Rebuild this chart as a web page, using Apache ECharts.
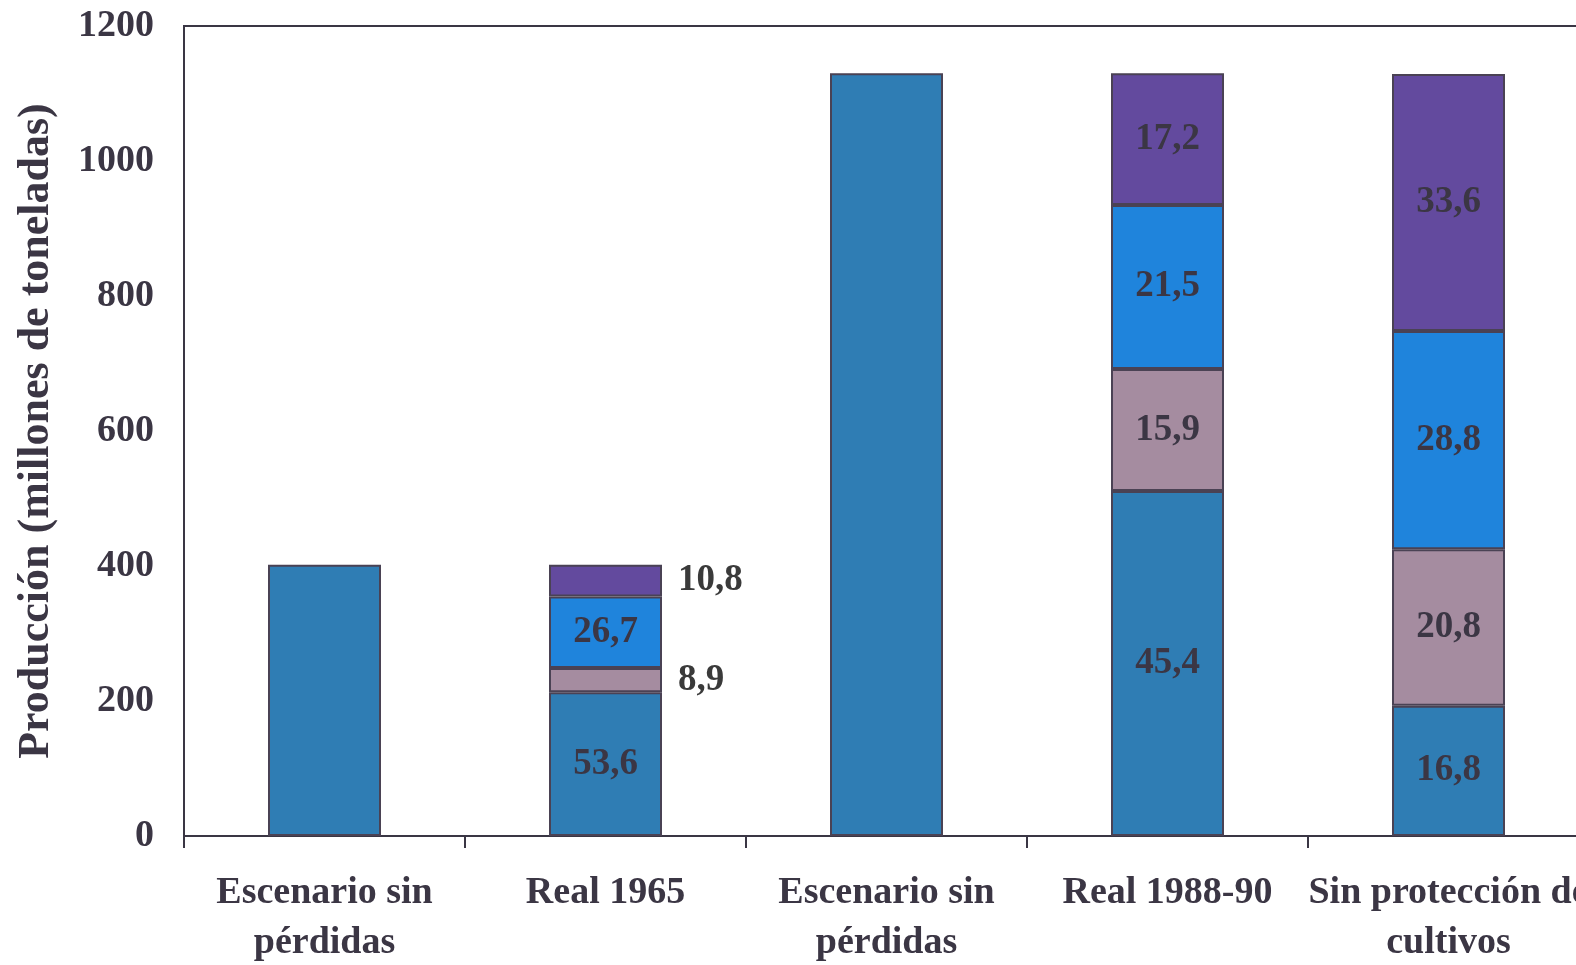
<!DOCTYPE html>
<html>
<head>
<meta charset="utf-8">
<script src="https://cdn.jsdelivr.net/npm/echarts@6/dist/echarts.min.js"></script>
<style>
html,body{margin:0;padding:0;background:#fff;overflow:hidden;}
#c{width:1576px;height:965px;}
</style>
</head>
<body>
<div id="c"></div>
<script>
const categories = ['Escenario sin\npérdidas', 'Real 1965', 'Escenario sin\npérdidas', 'Real 1988-90', 'Sin protección de\ncultivos'];
const yTicks = [0, 200, 400, 600, 800, 1000, 1200];
// heights (millones de toneladas)
const obtenida = [402, 213, 1130, 511, 193];
const perdidaA = ['-', 36, '-', 181, 232];
const perdidaB = ['-', 106, '-', 243, 323];
const perdidaC = ['-', 47, '-', 195, 381];
// percentage labels
const pctObtenida = ['', '53,6', '', '45,4', '16,8'];
const pctA = ['', '8,9', '', '15,9', '20,8'];
const pctB = ['', '26,7', '', '21,5', '28,8'];
const pctC = ['', '10,8', '', '17,2', '33,6'];

const FONT = 'Liberation Serif';
const TXT = '#3b3644';

function labelCfg(pcts) {
  return {
    show: true,
    fontFamily: FONT, fontWeight: 'bold', fontSize: 37, color: TXT,
    formatter: p => pcts[p.dataIndex]
  };
}
function mkData(vals, outsideIdx) {
  return vals.map((v, i) => {
    if (i === outsideIdx) {
      return { value: v, label: { position: 'right', distance: 16, color: '#3a3a3a' } };
    }
    return v;
  });
}
const border = { borderColor: '#4a4254', borderWidth: 2 };

const chart = echarts.init(document.getElementById('c'));
chart.setOption({
  animation: false,
  grid: { left: 184, right: -13, top: 26, bottom: 129, show: true, borderColor: '#3a3644', borderWidth: 2,
    backgroundColor: 'transparent', outerBoundsMode: 'none', containLabel: false },
  xAxis: {
    type: 'category', data: categories,
    axisLine: { lineStyle: { color: '#3a3644', width: 2 } },
    axisTick: { show: true, length: 12, lineStyle: { color: '#3a3644', width: 2 } },
    axisLabel: { fontFamily: FONT, fontWeight: 'bold', fontSize: 38, color: TXT, lineHeight: 50, margin: 32, interval: 0,
      hideOverlap: false }
  },
  yAxis: {
    type: 'value', min: 0, max: 1200, interval: 200,
    name: 'Producción (millones de toneladas)', nameLocation: 'middle', nameGap: 125,
    nameTextStyle: { fontFamily: FONT, fontWeight: 'bold', fontSize: 44, color: TXT },
    axisLine: { show: true, lineStyle: { color: '#3a3644', width: 2 } },
    axisTick: { show: false },
    splitLine: { show: false },
    axisLabel: { fontFamily: FONT, fontWeight: 'bold', fontSize: 38, color: TXT, margin: 30,
      formatter: v => yTicks.includes(v) ? String(v) : '' }
  },
  series: [
    { name: 'Producción obtenida', type: 'bar', stack: 't', barWidth: 113, data: obtenida,
      itemStyle: Object.assign({ color: '#2f7db4' }, border), label: labelCfg(pctObtenida) },
    { name: 'Pérdidas A', type: 'bar', stack: 't', barWidth: 113, data: mkData(perdidaA, 1),
      itemStyle: Object.assign({ color: '#a58ca0' }, border), label: labelCfg(pctA) },
    { name: 'Pérdidas B', type: 'bar', stack: 't', barWidth: 113, data: perdidaB,
      itemStyle: Object.assign({ color: '#1f84dc' }, border), label: labelCfg(pctB) },
    { name: 'Pérdidas C', type: 'bar', stack: 't', barWidth: 113, data: mkData(perdidaC, 1),
      itemStyle: Object.assign({ color: '#634a9e' }, border), label: labelCfg(pctC) }
  ]
});
</script>
</body>
</html>
